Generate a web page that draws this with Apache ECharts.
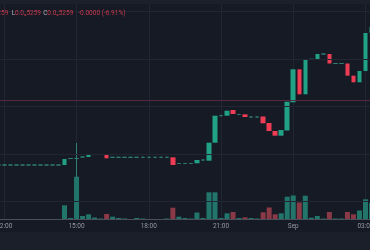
<!DOCTYPE html>
<html>
<head>
<meta charset="utf-8">
<script src="https://cdn.jsdelivr.net/npm/echarts@6/dist/echarts.min.js"></script>
<style>
  html, body { margin: 0; padding: 0; background: #161a25; }
  #chart { width: 370px; height: 250px; }
</style>
</head>
<body>
<div id="chart"></div>
<script>
// 15 min bars, 31 Aug 11:45 -> 1 Sep 03:15
var times = [
  '11:45', '12:00', '12:15', '12:30', '12:45', '13:00', '13:15', '13:30', '13:45', '14:00', '14:15', '14:30',
  '14:45', '15:00', '15:15', '15:30', '15:45', '16:00', '16:15', '16:30', '16:45', '17:00', '17:15', '17:30',
  '17:45', '18:00', '18:15', '18:30', '18:45', '19:00', '19:15', '19:30', '19:45', '20:00', '20:15', '20:30',
  '20:45', '21:00', '21:15', '21:30', '21:45', '22:00', '22:15', '22:30', '22:45', '23:00', '23:15', '23:30',
  '23:45', '00:00', '00:15', '00:30', '00:45', '01:00', '01:15', '01:30', '01:45', '02:00', '02:15', '02:30',
  '02:45', '03:00', '03:15'
];
// prices in chart units (no price scale visible in the crop)
var opens = [
  54, 54, 54, 54, 54, 54, 54, 54, 54, 54, 54, 54,
  60.5, 60.5, 62, 62, 64.5, 64.5, 64.7, 61.7, 61.7, 61.7, 61.7, 61.7,
  61.7, 61.7, 61.7, 61.7, 61.7, 61.7, 55.5, 55.5, 55.5, 55.7, 59, 58.3,
  76.3, 103.3, 103.3, 109, 104.5, 104.7, 102, 102, 102.5, 96, 88, 83.3,
  88.5, 116.7, 149.7, 124.7, 159.7, 159.7, 165, 165, 155.5, 155.5, 155.5, 143.3,
  136.7, 148, 186
];
var closes = [
  54, 54, 54, 54, 54, 54, 54, 54, 54, 54, 54, 60,
  60.5, 60.5, 62, 64.7, 64.5, 64.5, 60.7, 61.7, 61.7, 61.7, 61.7, 61.7,
  61.7, 61.7, 61.7, 61.7, 61.7, 54, 55.5, 55.5, 55.5, 59, 59, 76.3,
  103.3, 103.3, 108.3, 105, 104.5, 102, 102, 102, 95.7, 88, 83.3, 89,
  117.3, 149.7, 124.7, 159.7, 159.7, 165, 165, 155.5, 155.5, 155.5, 143.3, 136.7,
  148, 186, 192
];
var wickHigh = { 13: 76 };
var wickLow = { 13: 42 };
var volumes = [
  0, 0, 0, 0, 0, 0, 0, 0, 0, 0, 0, 13.7,
  1, 42.3, 3, 4.7, 1.5, 0.5, 5, 2.3, 1, 0.5, 0, 1,
  0.5, 0, 0, 0, 0.5, 11.3, 2.3, 1, 0.5, 6.5, 1, 26.7,
  26.7, 1, 5.7, 7, 1, 1.7, 1, 0.5, 6.7, 11.5, 4.7, 5.7,
  22.3, 23.5, 16.5, 23.3, 1.3, 3, 0.5, 7, 0.5, 0.5, 7, 4.7,
  8.5, 19.7, 16
];
var tickLabels = { '12:00': '12:00', '15:00': '15:00', '18:00': '18:00', '21:00': '21:00', '00:00': 'Sep', '03:00': '03:00' };
var gridLevels = [17.4, 65, 112.6, 160.2, 207.8];
var lineLevel = 119;

var UP = '#21a287', DOWN = '#ee3c54', FLAT = '#2f7f76';
var BG = '#161a25', GRID = '#222633';

var bodies = [], dojis = [], volData = [];
for (var i = 0; i < times.length; i++) {
  var o = opens[i], c = closes[i];
  var lo = wickLow[i] != null ? wickLow[i] : Math.min(o, c);
  var hi = wickHigh[i] != null ? wickHigh[i] : Math.max(o, c);
  if (o === c) {
    bodies.push('-');
    dojis.push([o, c, lo, hi]);
  } else {
    bodies.push([o, c, lo, hi]);
    dojis.push('-');
  }
  volData.push({
    value: volumes[i],
    itemStyle: { color: c < o ? '#8a3a46' : '#22756a' }
  });
}

var showTick = function (idx) { return tickLabels[times[idx]] != null; };

var chart = echarts.init(document.getElementById('chart'));
chart.setOption({
  animation: false,
  backgroundColor: BG,
  textStyle: { fontFamily: 'Roboto' },
  grid: [
    { left: -1.72, right: -1.5, top: 0, bottom: 31, outerBoundsMode: 'none', containLabel: false },
    { left: -1.72, right: -1.5, top: 159, bottom: 31, outerBoundsMode: 'none', containLabel: false }
  ],
  xAxis: [
    {
      type: 'category', gridIndex: 0, data: times, boundaryGap: false,
      axisLine: { show: false }, axisTick: { show: false }, axisLabel: { show: false },
      splitLine: { show: true, interval: showTick, lineStyle: { color: GRID, width: 1 } }
    },
    {
      type: 'category', gridIndex: 1, data: times, boundaryGap: false,
      axisLine: { show: true, lineStyle: { color: '#4b4f5b', width: 1 } },
      axisTick: { show: false },
      splitLine: { show: false },
      axisLabel: {
        show: true, interval: showTick, margin: 4,
        alignMinLabel: 'center', alignMaxLabel: 'center',
        color: '#9598a1', fontSize: 6.5, fontFamily: 'Roboto',
        formatter: function (v) { return tickLabels[v] || ''; }
      }
    }
  ],
  yAxis: [
    { type: 'value', gridIndex: 0, min: 0, max: 219, show: false, splitLine: { show: false } },
    { type: 'value', gridIndex: 1, min: 0, max: 60, show: false, splitLine: { show: false } }
  ],
  series: [
    {
      type: 'line', xAxisIndex: 0, yAxisIndex: 0, data: [], z: 0, silent: true,
      markLine: {
        symbol: 'none', silent: true, label: { show: false },
        lineStyle: { color: GRID, type: 'solid', width: 1 },
        data: gridLevels.map(function (v) { return { yAxis: v }; })
          .concat([{ yAxis: lineLevel, lineStyle: { color: '#57283d', width: 1, type: 'solid' } }])
      }
    },
    {
      type: 'bar', xAxisIndex: 1, yAxisIndex: 1, data: volData, barWidth: 5, z: 1
    },
    {
      type: 'candlestick', xAxisIndex: 0, yAxisIndex: 0, data: bodies, barWidth: 5, z: 3,
      itemStyle: { color: UP, color0: DOWN, borderColor: UP, borderColor0: DOWN, borderWidth: 0 }
    },
    {
      type: 'candlestick', xAxisIndex: 0, yAxisIndex: 0, data: dojis, barWidth: 4, z: 3,
      itemStyle: { color: FLAT, color0: FLAT, borderColor: FLAT, borderColor0: FLAT, borderWidth: 1 }
    }
  ],
  graphic: [
    { type: 'rect', left: 0, top: 0, shape: { width: 370, height: 4 }, style: { fill: '#1c202b' }, z: 10 },
    { type: 'rect', left: 0, top: 232, shape: { width: 370, height: 18 }, style: { fill: '#1b1f2a' }, z: 10 },
    { type: 'text', x: 8.3, y: 13, style: { text: 'H0.0₅5259', fill: '#c8384a', font: '6.5px Roboto', align: 'right', verticalAlign: 'middle' }, z: 11 },
    { type: 'text', x: 11.7, y: 13, style: { text: 'L', fill: '#b2b5be', font: '6.5px Roboto', verticalAlign: 'middle' }, z: 11 },
    { type: 'text', x: 15, y: 13, style: { text: '0.0₅5259', fill: '#c8384a', font: '6.5px Roboto', verticalAlign: 'middle' }, z: 11 },
    { type: 'text', x: 43.3, y: 13, style: { text: 'C', fill: '#b2b5be', font: '6.5px Roboto', verticalAlign: 'middle' }, z: 11 },
    { type: 'text', x: 47.3, y: 13, style: { text: '0.0₅5259', fill: '#c8384a', font: '6.5px Roboto', verticalAlign: 'middle' }, z: 11 },
    { type: 'text', x: 78.3, y: 13, style: { text: '-0.0000 (-6.91%)', fill: '#c8384a', font: '6.5px Roboto', verticalAlign: 'middle' }, z: 11 }
  ]
});
</script>
</body>
</html>
